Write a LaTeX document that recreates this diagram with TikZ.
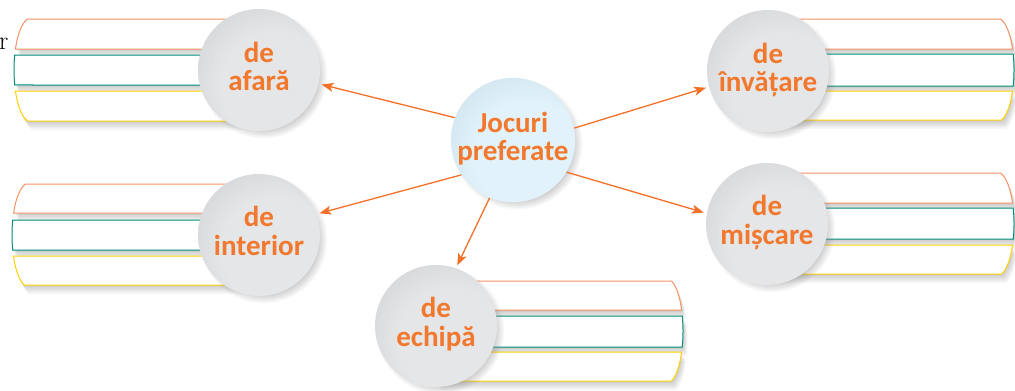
\documentclass[tikz,border=0pt]{standalone}
\usepackage{fontspec}
\newfontfamily\lbl{Carlito}
\usetikzlibrary{arrows.meta,shadows,fadings}
\definecolor{txtor}{RGB}{241,120,45}
\definecolor{arror}{RGB}{242,112,40}
\definecolor{stor}{RGB}{246,146,100}
\definecolor{stte}{RGB}{0,140,122}
\definecolor{stye}{RGB}{255,208,0}
\definecolor{gL}{RGB}{229,230,232}
\definecolor{gD}{RGB}{180,181,185}
\definecolor{bL}{RGB}{225,242,250}
\definecolor{bD}{RGB}{176,197,210}
\pgfdeclareradialshading{graysph}{\pgfpoint{10bp}{-10bp}}{color(0bp)=(gL); color(22bp)=(gL); color(62bp)=(gD)}
\pgfdeclareradialshading{bluesph}{\pgfpoint{10bp}{-10bp}}{color(0bp)=(bL); color(22bp)=(bL); color(62bp)=(bD)}
\newcommand{\stripang}[3]{\pgfmathsetmacro\tA{asin((#2-#1)/52)}\pgfmathsetmacro\tB{asin((#3-#1)/52)}}
% side(+/-), a, cx, cy, y1, y2, xin
\newcommand{\stripshadow}[7]{%
 \stripang{#4}{#5}{#6}%
 \foreach \s in {1,...,5}{%
  \begin{scope}[shift={(\s*0.9,\s*1.8)}]
  \fill[black,opacity=0.04] (#7,#5) -- plot[domain=\tA:\tB,samples=24,variable=\t] ({#3 #1 #2*cos(\t)},{#4+52*sin(\t)}) -- (#7,#6) -- cycle;
  \end{scope}}%
}
% color, side, a, cx, cy, y1, y2, xin
\newcommand{\stripdraw}[8]{%
 \stripang{#5}{#6}{#7}%
 \draw[#1,fill=white,line width=1pt] (#8,#6) -- plot[domain=\tA:\tB,samples=24,variable=\t] ({#4 #2 #3*cos(\t)},{#5+52*sin(\t)}) -- (#8,#7);
}
\newcommand{\twol}[3][2pt]{\raisebox{#1}{\begin{tabular}{@{}c@{}}#2\\#3\end{tabular}}}
\begin{document}
\begin{tikzpicture}[x=1pt,y=-1pt,
  sat/.style={circle, minimum size=122pt, inner sep=0pt, align=center,
    text=txtor, font=\lbl\bfseries\fontsize{29}{27}\selectfont,
    circular drop shadow={shadow xshift=4pt,shadow yshift=-4pt,shadow scale=1.05,opacity=0.38}},
  gsat/.style={sat, shading=graysph},
  csat/.style={sat, shading=bluesph, font=\lbl\bfseries\fontsize{29}{26}\selectfont},
  arr/.style={draw=arror, line width=1.3pt, -{Stealth[length=12pt,width=9pt,inset=3pt]}, shorten >=3pt}]
\useasboundingbox (0,0) rectangle (1015,391);
\fill[white] (0,0) rectangle (1015,391);
% group afara (left)
\stripshadow{-}{17}{31}{70}{19}{49}{259}
\stripshadow{-}{17}{31}{70}{55}{85}{259}
\stripshadow{-}{17}{31}{70}{91}{121}{259}
\stripdraw{stor}{-}{17}{31}{70}{19}{49}{259}
\stripdraw{stte}{-}{17}{31}{70}{55}{85}{259}
\stripdraw{stye}{-}{17}{31}{70}{91}{121}{259}
% group interior (left)
\stripshadow{-}{17}{29}{235}{184}{213}{259}
\stripshadow{-}{17}{29}{235}{220}{250}{259}
\stripshadow{-}{17}{29}{235}{256}{285}{259}
\stripdraw{stor}{-}{17}{29}{235}{184}{213}{259}
\stripdraw{stte}{-}{17}{29}{235}{220}{250}{259}
\stripdraw{stye}{-}{17}{29}{235}{256}{285}{259}
% group invatare (right)
\stripshadow{+}{17}{997}{70}{19}{49}{768}
\stripshadow{+}{17}{997}{70}{54}{86}{768}
\stripshadow{+}{17}{997}{70}{91}{120}{768}
\stripdraw{stor}{+}{17}{997}{70}{19}{49}{768}
\stripdraw{stte}{+}{17}{997}{70}{54}{86}{768}
\stripdraw{stye}{+}{17}{997}{70}{91}{120}{768}
% group miscare (right)
\stripshadow{+}{17}{997}{224}{173}{203}{767}
\stripshadow{+}{17}{997}{224}{208}{239}{767}
\stripshadow{+}{17}{997}{224}{245}{274}{767}
\stripdraw{stor}{+}{17}{997}{224}{173}{203}{767}
\stripdraw{stte}{+}{17}{997}{224}{208}{239}{767}
\stripdraw{stye}{+}{17}{997}{224}{245}{274}{767}
% group echipa (right)
\stripshadow{+}{16}{667}{331}{281}{310}{436}
\stripshadow{+}{16}{667}{331}{316}{347}{436}
\stripshadow{+}{16}{667}{331}{352}{381}{436}
\stripdraw{stor}{+}{16}{667}{331}{281}{310}{436}
\stripdraw{stte}{+}{16}{667}{331}{316}{347}{436}
\stripdraw{stye}{+}{16}{667}{331}{352}{381}{436}
% stray letter
\node[anchor=base west, inner sep=0pt, font=\fontsize{26}{26}\selectfont] (rr) at (-1,49) {r};
% circles
\node[csat] (c) at (513,140) {\twol[-1pt]{Jocuri}{preferate}};
\node[gsat] (afara) at (259,70) {\twol{de}{afară}};
\node[gsat] (inter) at (259,235) {\twol{de}{interior}};
\node[gsat] (invat) at (768,71) {\twol{de}{învățare}};
\node[gsat] (misc) at (767,224) {\twol{de}{mișcare}};
\node[gsat] (echip) at (436,326) {\twol{de}{echipă}};
% arrows
\draw[arr] (c.159) -- (afara.347);
\draw[arr] (c.214) -- (inter.20);
\draw[arr] (c.11) -- (invat.195);
\draw[arr] (c.329) -- (misc.170);
\draw[arr] (c.248) -- (echip.71);
\end{tikzpicture}
\end{document}
